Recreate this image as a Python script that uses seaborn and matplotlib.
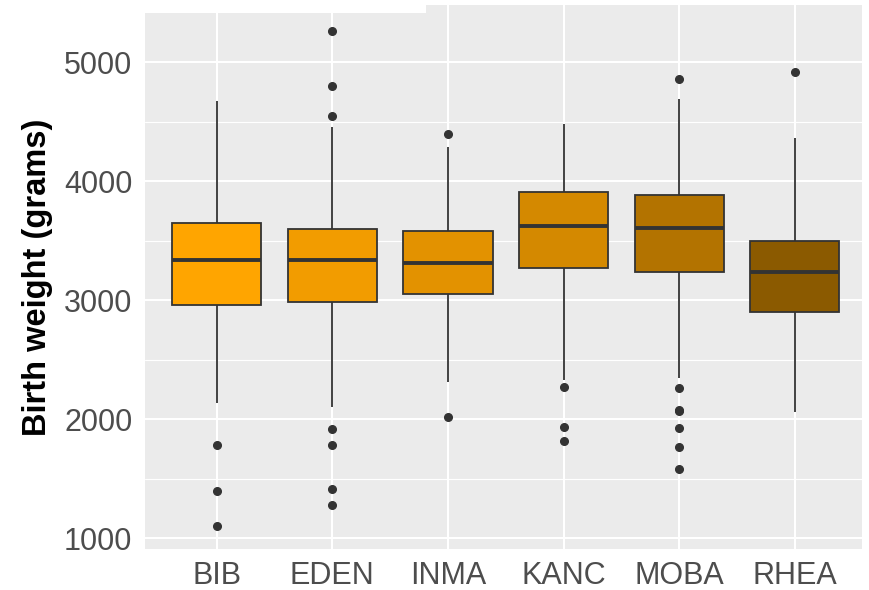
import numpy as np
import pandas as pd
import matplotlib
matplotlib.use("Agg")
import matplotlib.pyplot as plt
from matplotlib.ticker import MultipleLocator
from matplotlib.patches import Rectangle
import seaborn as sns

# Birth weight summaries by cohort (grams)
cohorts = ["BIB", "EDEN", "INMA", "KANC", "MOBA", "RHEA"]
q1 = [2958, 2986, 3048, 3272, 3238, 2897]
median = [3339, 3339, 3308, 3619, 3602, 3232]
q3 = [3645, 3597, 3583, 3908, 3882, 3493]
whisker_low = [2137, 2104, 2308, 2328, 2342, 2062]
whisker_high = [4672, 4451, 4288, 4479, 4689, 4364]
outliers_low = [
    [1782, 1395, 1101],
    [1916, 1782, 1412, 1277],
    [2020],
    [2272, 1930, 1815],
    [2258, 2076, 2070, 1922, 1767, 1577],
    [],
]
outliers_high = [
    [],
    [5261, 4798, 4546],
    [4398],
    [],
    [4860],
    [4919],
]
colors = ["#FFA500", "#F29C00", "#E39200", "#D48900", "#B37300", "#8B5A00"]

# Expand each cohort's summary into a sample with exactly those quartiles
rows = []
for i, c in enumerate(cohorts):
    vals = (outliers_low[i] + [whisker_low[i]] + [q1[i]] * 30 + [median[i]] * 30
            + [q3[i]] * 30 + [whisker_high[i]] + outliers_high[i])
    rows += [(c, v) for v in vals]
df = pd.DataFrame(rows, columns=["cohort", "bw"])

sns.set_theme(style="darkgrid")
plt.rcParams["font.family"] = ["Liberation Sans", "DejaVu Sans"]

fig = plt.figure(figsize=(8.7, 5.9), dpi=100)
ax = fig.add_axes([145 / 870, 1 - 549 / 590, (862 - 145) / 870, (549 - 5) / 590])
ax.set_facecolor("#EBEBEB")

sns.boxplot(
    data=df, x="cohort", y="bw", hue="cohort", order=cohorts, hue_order=cohorts,
    palette=colors, legend=False, width=0.77, saturation=1, linewidth=1.3,
    linecolor="#333333", showcaps=False,
    flierprops=dict(marker="o", markerfacecolor="#333333", markeredgecolor="#333333",
                    markersize=5.5),
    medianprops=dict(linewidth=2.8, color="#333333"),
    whiskerprops=dict(linewidth=1.3, color="#333333"),
    ax=ax,
)

ax.set_xlim(-0.62, 5.58)
ax.set_ylim(908, 5479)
ax.yaxis.set_major_locator(MultipleLocator(1000))
ax.yaxis.set_minor_locator(MultipleLocator(500))
ax.grid(which="major", color="white", linewidth=1.5)
ax.grid(which="minor", axis="y", color="white", linewidth=0.8)
ax.set_axisbelow(True)
for s in ax.spines.values():
    s.set_visible(False)

ax.tick_params(axis="both", which="major", length=5, width=1.2, color="#333333",
               labelsize=22, labelcolor="#4D4D4D", pad=4)
ax.tick_params(axis="y", which="minor", length=0)
ax.set_xlabel("")
ax.set_ylabel("Birth weight (grams)", fontsize=23.5, fontweight="bold", color="black",
              labelpad=8)

# white legend strip cut off at the top edge
fig.patches.append(Rectangle((0, 1 - 13 / 590), 426 / 870, 13 / 590,
                             transform=fig.transFigure, facecolor="white",
                             edgecolor="none", zorder=5))

fig.savefig("out.png", dpi=100, facecolor="white")
